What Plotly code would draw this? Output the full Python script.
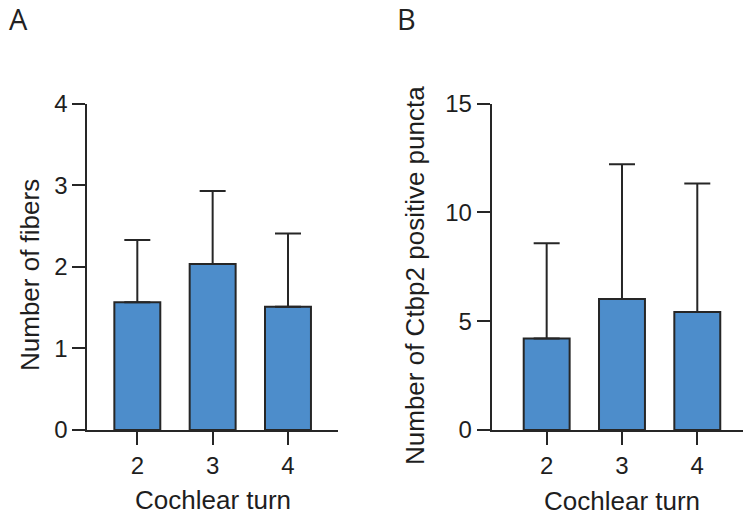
import plotly.graph_objects as go

turns = ["2", "3", "4"]
fibers_mean = [1.565, 2.035, 1.51]
fibers_sd = [0.765, 0.895, 0.90]
puncta_mean = [4.21, 6.02, 5.43]
puncta_sd = [4.38, 6.20, 5.90]

W, H = 743, 518
BAR_FILL = "#4d8dcb"
INK = "#262626"
FONT = "Liberation Sans, Arial, sans-serif"


def px_x(p):
    return p / W


def px_y(p):
    return 1 - p / H


fig = go.Figure()

for means, sds, xa, ya in [(fibers_mean, fibers_sd, "x", "y"), (puncta_mean, puncta_sd, "x2", "y2")]:
    fig.add_trace(go.Bar(
        x=turns, y=means, xaxis=xa, yaxis=ya, width=0.61,
        marker=dict(color=BAR_FILL, line=dict(color=INK, width=2)),
        error_y=dict(type="data", array=sds, arrayminus=[0] * len(sds), symmetric=False,
                     color=INK, thickness=2, width=13),
        showlegend=False, hoverinfo="skip",
    ))

axis_common = dict(
    showline=True, linecolor=INK, linewidth=2, ticks="outside",
    tickwidth=2, tickcolor=INK, showgrid=False, zeroline=False, automargin=False,
    tickfont=dict(family=FONT, size=24, color="#1e1e1e"),
)

fig.update_layout(
    width=W, height=H, autosize=False,
    margin=dict(l=0, r=0, t=0, b=0, pad=0, autoexpand=False),
    paper_bgcolor="white", plot_bgcolor="white",
    bargap=0.3,
    xaxis=dict(domain=[px_x(87.3), px_x(338.3)], anchor="y", type="category", ticklen=13,
               range=[-0.664, 2.668], **axis_common),
    yaxis=dict(domain=[px_y(430), px_y(103.7)], anchor="x", range=[0, 4], ticklen=13,
               tickvals=[0, 1, 2, 3, 4], **axis_common),
    xaxis2=dict(domain=[px_x(491.7), 1.0], anchor="y2", type="category", ticklen=13,
                range=[-0.730, 2.607], **axis_common),
    yaxis2=dict(domain=[px_y(430), px_y(103.7)], anchor="x2", range=[0, 15], ticklen=13,
                tickvals=[0, 5, 10, 15], **axis_common),
)

title_font = dict(family=FONT, size=26, color="#1e1e1e")
label_font = dict(family="Open Sans, sans-serif", size=29, color="#222")

annotations = [
    dict(text="Cochlear turn", x=1, y=px_y(500), xref="x", yref="paper",
         xanchor="center", yanchor="middle", showarrow=False, font=title_font),
    dict(text="Cochlear turn", x=1, y=px_y(501), xref="x2", yref="paper",
         xanchor="center", yanchor="middle", showarrow=False, font=title_font),
    dict(text="Number of fibers", x=px_x(30), y=px_y(275), xref="paper", yref="paper",
         xanchor="center", yanchor="middle", textangle=-90, showarrow=False, font=title_font),
    dict(text="Number of Ctbp2 positive puncta", x=px_x(415), y=px_y(276), xref="paper", yref="paper",
         xanchor="center", yanchor="middle", textangle=-90, showarrow=False, font=title_font),
    dict(text="A", x=px_x(7), y=px_y(-3), xref="paper", yref="paper",
         xanchor="left", yanchor="top", showarrow=False, font=label_font),
    dict(text="B", x=px_x(395), y=px_y(-3), xref="paper", yref="paper",
         xanchor="left", yanchor="top", showarrow=False, font=label_font),
]
fig.update_layout(annotations=annotations)

fig.write_html(
    "out.html",
    config={"displayModeBar": False, "responsive": False},
    post_script="document.body.style.margin='0';document.documentElement.style.overflow='hidden';document.body.style.overflow='hidden';",
)
